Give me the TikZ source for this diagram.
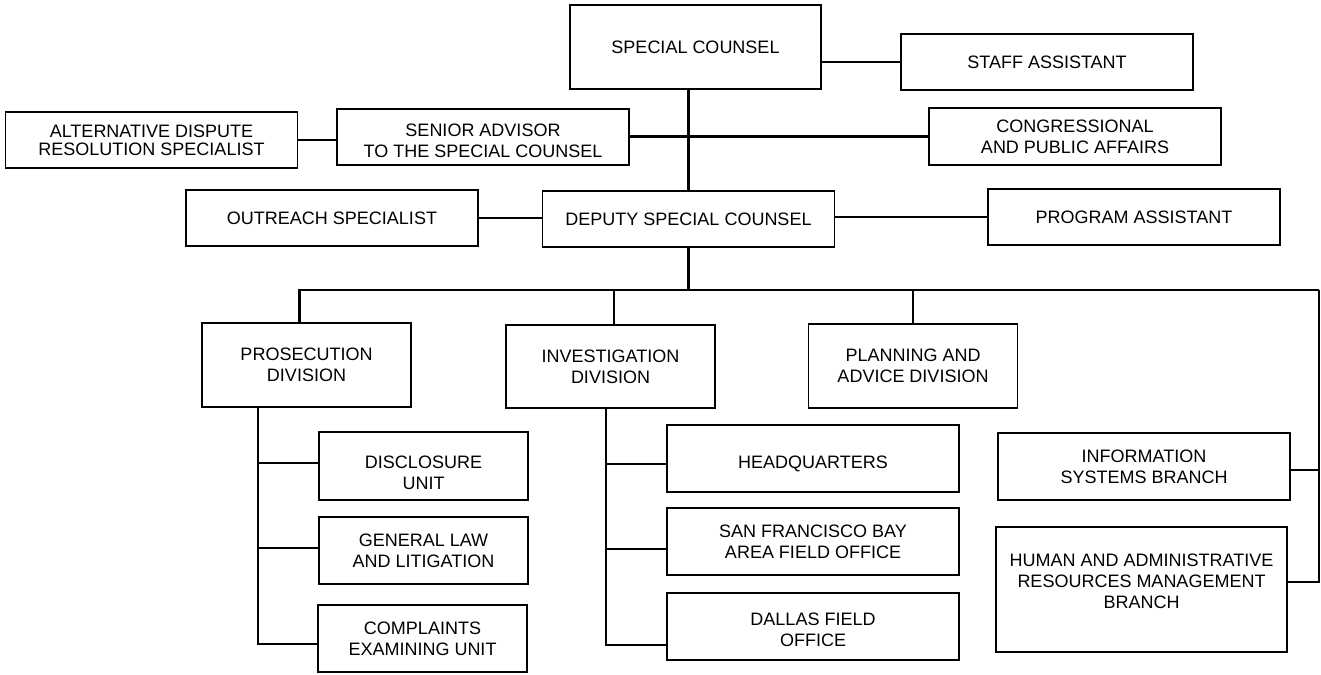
\documentclass[tikz,border=0pt]{standalone}
\usepackage{fontspec}
\setmainfont{Liberation Sans}
\usepackage{tikz}
\usetikzlibrary{positioning}

\begin{document}
\begin{tikzpicture}[x=1pt, y=-1pt,
    every node/.style={font=\fontsize{18}{21}\selectfont},
    office/.style={draw, line width=1.3pt, align=center, inner sep=0pt},
    link/.style={line width=2.2pt},
    thinlink/.style={line width=1.2pt}]
        \useasboundingbox (0,0) rectangle (1321,674);
        % Top level
        \node[office,minimum width=251,minimum height=84] (sc) at (695.5,47) {SPECIAL COUNSEL};
        \node[office,minimum width=292,minimum height=56] (sa) at (1047,62) {STAFF ASSISTANT};
        \node[office,minimum width=292,minimum height=56,font=\fontsize{18}{18}\selectfont] (adr) at (151.5,140) {ALTERNATIVE DISPUTE\\RESOLUTION SPECIALIST};
        \node[office,minimum width=292,minimum height=56,text height=40.4pt] (sadv) at (483,137) {SENIOR ADVISOR\\TO THE SPECIAL COUNSEL};
        \node[office,minimum width=292,minimum height=57] (cpa) at (1075,136.5) {CONGRESSIONAL\\AND PUBLIC AFFAIRS};
        \node[office,minimum width=292,minimum height=56] (out) at (332,218) {OUTREACH SPECIALIST};
        \node[office,minimum width=292,minimum height=56] (dsc) at (688.5,219) {DEPUTY SPECIAL COUNSEL};
        \node[office,minimum width=292,minimum height=56] (pa) at (1134,217) {PROGRAM ASSISTANT};
        % Divisions
        \node[office,minimum width=209,minimum height=84] (pros) at (306.5,365) {PROSECUTION\\DIVISION};
        \node[office,minimum width=209,minimum height=83] (inv) at (610.5,366.5) {INVESTIGATION\\DIVISION};
        \node[office,minimum width=209,minimum height=84] (pad) at (913,366) {PLANNING AND\\ADVICE DIVISION};
        % Units
        \node[office,minimum width=209,minimum height=68,text height=47.4pt] (dis) at (423.5,466) {DISCLOSURE\\UNIT};
        \node[office,minimum width=209,minimum height=67] (gl) at (423.5,550.5) {GENERAL LAW\\AND LITIGATION};
        \node[office,minimum width=209,minimum height=67] (ceu) at (422.5,638.5) {COMPLAINTS\\EXAMINING UNIT};
        \node[office,minimum width=292,minimum height=67,text height=23.4pt] (hq) at (813,458.5) {HEADQUARTERS};
        \node[office,minimum width=292,minimum height=67] (sf) at (813,541.5) {SAN FRANCISCO BAY\\AREA FIELD OFFICE};
        \node[office,minimum width=292,minimum height=67,text height=40.4pt] (dfo) at (813,626.5) {DALLAS FIELD\\OFFICE};
        \node[office,minimum width=292,minimum height=67] (isb) at (1144,466.5) {INFORMATION\\SYSTEMS BRANCH};
        \node[office,minimum width=291,minimum height=125,text depth=17pt] (hr) at (1141.5,589.5) {HUMAN AND ADMINISTRATIVE\\RESOURCES MANAGEMENT\\BRANCH};
        % Helper points
        \coordinate (busR) at (1319,290);
        \coordinate (pdrop) at ([xshift=-7pt]pros.north);
        \coordinate (idrop) at ([xshift=3.5pt]inv.north);
        \coordinate (pspine) at ([xshift=-48.5pt]pros.south);
        \coordinate (ispine) at ([xshift=-4.5pt]inv.south);
        % Lines
        \draw[link] (sc.south -| dsc.north) -- (dsc.north);
        \draw[link] (sc.east |- sa.west) -- (sa.west);
        \draw[link] (cpa.west -| sadv.east) -- (cpa.west);
        \draw[thinlink] (adr.east) -- (adr.east -| sadv.west);
        \draw[link] (out.east) -- (out.east -| dsc.west);
        \draw[link] (pa.west -| dsc.east) -- (pa.west);
        \draw[link] (dsc.south) -- (dsc.south |- busR);
        \draw[link] (pdrop) |- (busR);
        \draw[link] (idrop) -- (idrop |- busR);
        \draw[link] (pad.north) -- (pad.north |- busR);
        \draw[link] (busR) |- ([yshift=7.5pt]hr.east);
        \draw[link] (busR) |- ([yshift=-3.5pt]isb.east);
        \foreach \n/\s in {dis/3,gl/2.5,ceu/-5.5}
          \draw[link] (pspine) |- ([yshift=\s pt]\n.west);
        \foreach \n/\s in {hq/-5.5,sf/-7.5,dfo/-18.5}
          \draw[link] (ispine) |- ([yshift=\s pt]\n.west);
      \end{tikzpicture}
\end{document}
